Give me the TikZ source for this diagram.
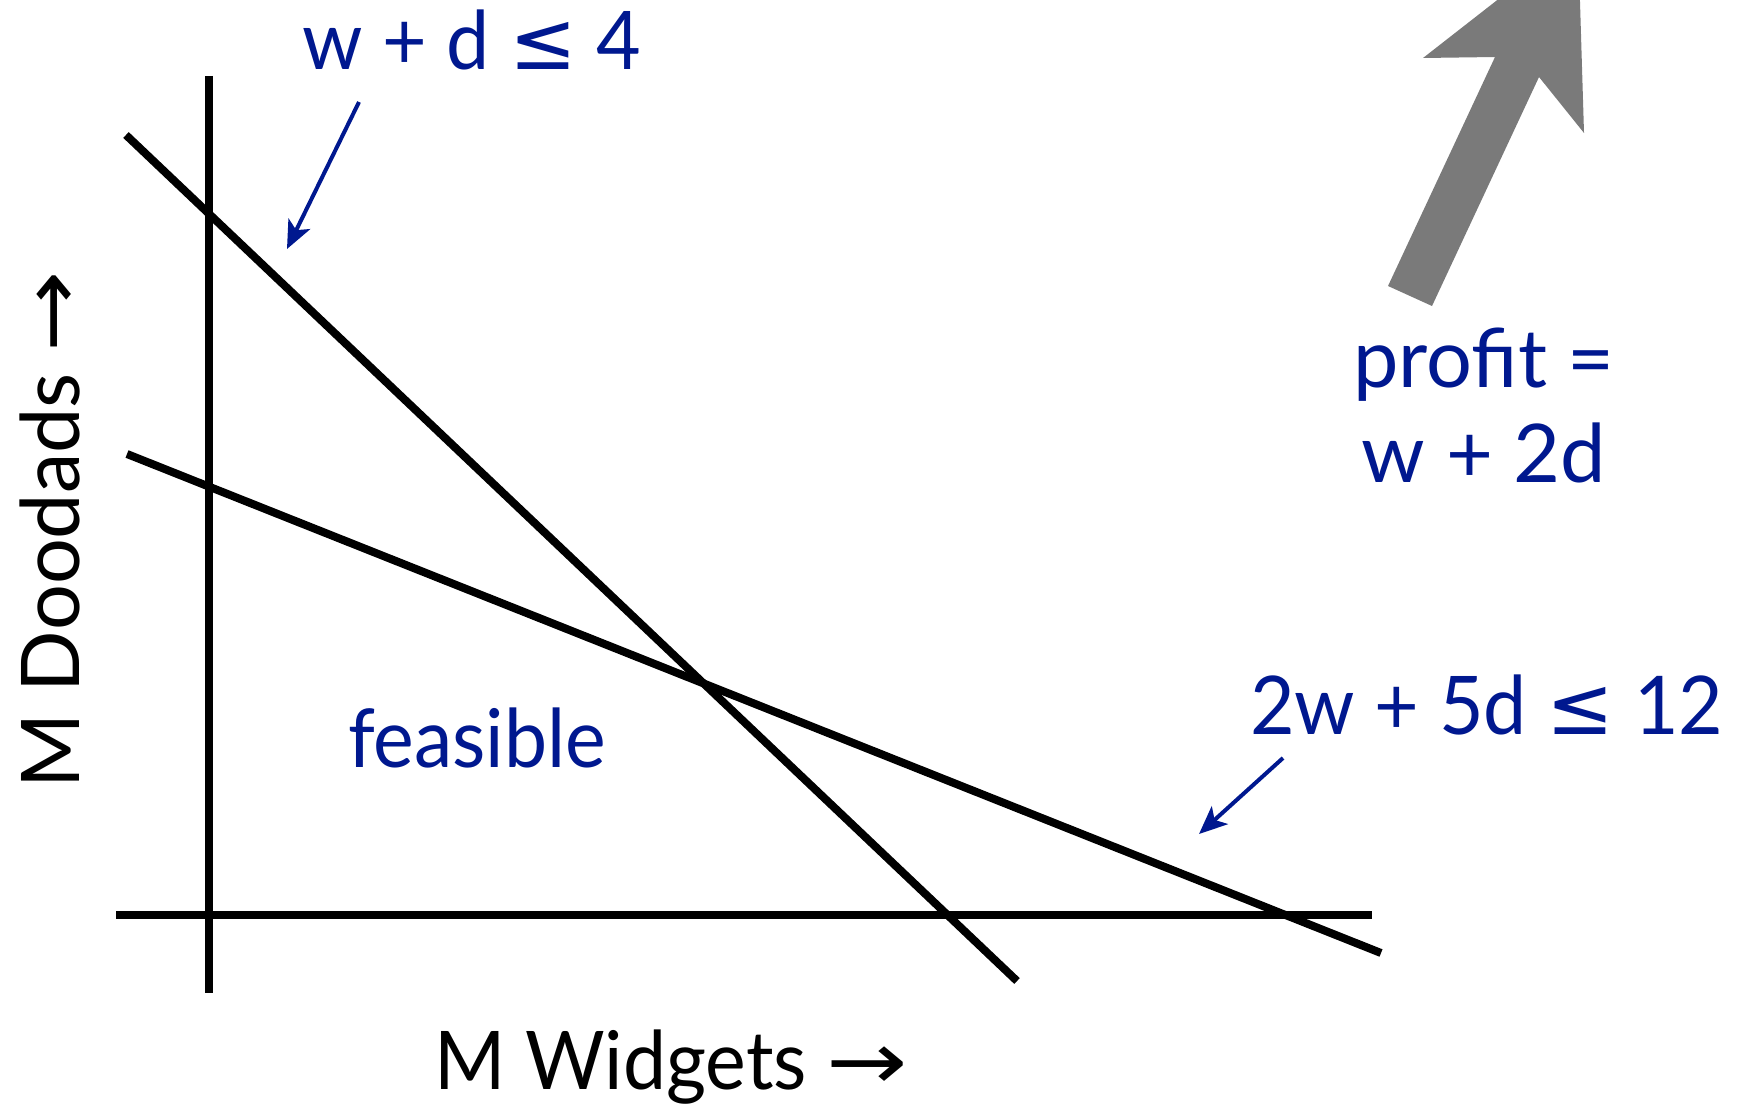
\documentclass[tikz,border=0pt]{standalone}
\usepackage{fontspec}
\usepackage{graphicx}
\setmainfont{Lato}
\newfontfamily\narrowfont{Lato}[FakeStretch=0.95]
\newfontfamily\symfont{DejaVu Sans}
\newcommand{\longarr}{\scalebox{1.2}[1]{\symfont →}}
\usetikzlibrary{arrows.meta}
\definecolor{lpblue}{RGB}{0,24,143}
\definecolor{lpgray}{RGB}{122,122,122}
\begin{document}
\begin{tikzpicture}[x=1pt,y=-1pt,
  axisline/.style={line width=8pt,draw=black},
  bigfont/.style={font=\fontsize{81}{95}\selectfont,inner sep=0pt,outer sep=0pt},
  bluelbl/.style={bigfont,text=lpblue},
  blacklbl/.style={bigfont,text=black},
  callout/.style={draw=lpblue,line width=4pt,-{Stealth[length=28pt,width=24pt,inset=7pt]}}]
\useasboundingbox (0,0) rectangle (1744,1105);
\clip (0,0) rectangle (1744,1105);
% profit direction arrow
\fill[lpgray] (1578,-63) -- (1423,58) -- (1495,57) -- (1388,286) -- (1432,306)
  -- (1539,77) -- (1584,133) -- cycle;
% axes
\coordinate (vtop) at (209,76);
\coordinate (vbot) at (209,993);
\coordinate (hleft) at (116,915);
\coordinate (hright) at (1372,915);
\draw[axisline] (vtop) -- (vbot);
\draw[axisline] (hleft) -- (hright);
% constraint lines
\coordinate (c1a) at (126,135);
\coordinate (c1b) at (1017,981);
\coordinate (c2a) at (127,454);
\coordinate (c2b) at (1381,953);
\draw[axisline] (c1a) -- (c1b);
\draw[axisline] (c2a) -- (c2b);
% labels
\node[bluelbl,anchor=base west] (con1) at (302,70) {\narrowfont w + d {\symfont ≤} 4};
\node[bluelbl,anchor=base west] (con2) at (1250,734) {\narrowfont 2w + 5d {\symfont ≤} 12};
\node[bluelbl,anchor=base] (prof1) at (1484,387) {profit =};
\node[bluelbl,anchor=base] (prof2) at (1484,482) {w + 2d};
\node[bluelbl,anchor=base west] (feas) at (348,767) {\narrowfont feasible};
\node[blacklbl,anchor=base west] (xlab) at (434,1089) {\narrowfont M Widgets \longarr};
\node[blacklbl,anchor=base west,rotate=90] (ylab) at (79,788) {M Doodads \longarr};
% callout arrows
\coordinate (a1s) at (359,102);
\coordinate (a1e) at (287,249);
\coordinate (a2s) at (1283,758);
\coordinate (a2e) at (1199,834);
\draw[callout] (a1s) -- (a1e);
\draw[callout] (a2s) -- (a2e);
\end{tikzpicture}
\end{document}
